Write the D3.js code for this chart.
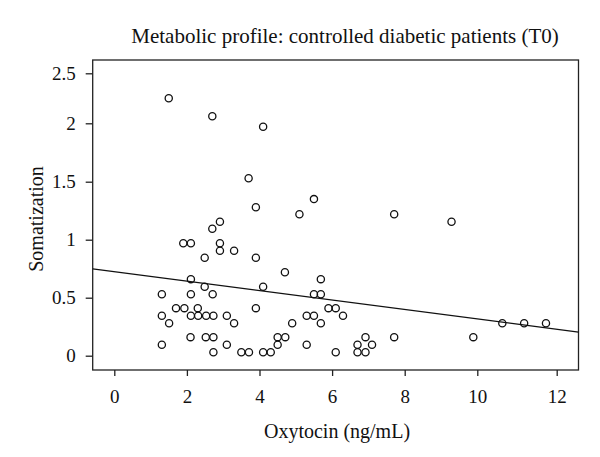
<!DOCTYPE html>
<html><head><meta charset="utf-8">
<script src="https://cdn.jsdelivr.net/npm/d3@7"></script>
<style>body{margin:0;background:#fff;} svg{display:block;}</style>
</head><body>
<script>
// ---- data ----
const title = "Metabolic profile: controlled diabetic patients (T0)";
const xLabel = "Oxytocin (ng/mL)";
const yLabel = "Somatization";
const xTicks = [0, 2, 4, 6, 8, 10, 12];
const yTicks = [0, 0.5, 1, 1.5, 2, 2.5];
const oxytocin = [
  1.50, 2.70, 4.10, 3.70, 3.90, 5.50, 5.10,
  2.91, 2.70, 1.90, 2.11, 2.91, 2.91, 3.30, 3.90, 2.49, 4.70, 2.11, 5.69, 2.49, 4.10,
  1.31, 2.11, 2.71, 5.50, 5.69,
  1.70, 1.93, 2.30, 3.90, 5.90, 6.10,
  1.31, 2.11, 2.31, 2.53, 2.73, 3.10, 5.30, 5.50,
  1.51, 3.30, 4.90, 5.69,
  2.10, 2.52, 2.73, 4.50, 4.71,
  1.31, 3.10, 4.50, 5.30,
  2.73, 3.50, 3.71, 4.10, 4.31, 6.10,
  7.71, 9.29, 6.30, 6.92, 6.70, 7.10, 6.70, 6.92, 7.71, 9.89, 10.63, 11.18, 11.73
];
const somatization = [
  2.25, 2.07, 1.97, 1.53, 1.28, 1.35, 1.22,
  1.155, 1.095, 0.97, 0.97, 0.97, 0.905, 0.905, 0.845, 0.845, 0.72, 0.66, 0.66, 0.595, 0.595,
  0.53, 0.53, 0.53, 0.53, 0.53,
  0.41, 0.41, 0.41, 0.41, 0.41, 0.41,
  0.345, 0.345, 0.345, 0.345, 0.345, 0.345, 0.345, 0.345,
  0.28, 0.28, 0.28, 0.28,
  0.16, 0.16, 0.16, 0.16, 0.16,
  0.095, 0.095, 0.095, 0.095,
  0.03, 0.03, 0.03, 0.03, 0.03, 0.03,
  1.22, 1.155, 0.345, 0.16, 0.095, 0.095, 0.03, 0.03, 0.16, 0.16, 0.28, 0.28, 0.28
];
const fit = { intercept: 0.723, slope: -0.0414 };
const xExtent = [-0.595, 12.55];

// ---- layout ----
const W = 600, H = 457;
const L = 92.7, R = 578.5, T = 60, B = 370;
const font = "'Liberation Serif', 'Times New Roman', serif";

const x = d3.scaleLinear()
  .domain([xExtent[0], 0, 10, xExtent[1]])
  .range([L, 114.3, 477.3, 477.3 + (xExtent[1] - 10) * 39.7]);
const y = d3.scaleLinear()
  .domain([-0.123, 0, 1.5, 2, 2.5, 2.63])
  .range([B, 355.7, 181.7, 123.3, 73.3, T]);

const svg = d3.select("body").append("svg").attr("width", W).attr("height", H)
  .style("font-family", font);

svg.append("rect").attr("x", L).attr("y", T).attr("width", R - L).attr("height", B - T)
  .attr("fill", "none").attr("stroke", "#222").attr("stroke-width", 1.3);

const xAxis = svg.append("g").attr("transform", `translate(0,${B})`)
  .call(d3.axisBottom(x).tickValues(xTicks).tickSize(6).tickPadding(14).tickFormat(d3.format("d")));
xAxis.select(".domain").remove();
xAxis.selectAll("line").attr("stroke", "#222").attr("stroke-width", 1.3);
xAxis.selectAll("text").attr("font-size", 19).attr("fill", "#111").style("font-family", font);

const yAxis = svg.append("g").attr("transform", `translate(${L},0)`)
  .call(d3.axisLeft(y).tickValues(yTicks).tickSize(7).tickPadding(10).tickFormat(d => d === 0 ? "0" : String(d)));
yAxis.select(".domain").remove();
yAxis.selectAll("line").attr("stroke", "#222").attr("stroke-width", 1.3);
yAxis.selectAll("text").attr("font-size", 19).attr("fill", "#111").style("font-family", font);

// regression line
svg.append("line")
  .attr("x1", x(xExtent[0])).attr("y1", y(fit.intercept + fit.slope * xExtent[0]))
  .attr("x2", x(xExtent[1])).attr("y2", y(fit.intercept + fit.slope * xExtent[1]))
  .attr("stroke", "#111").attr("stroke-width", 1.3);

// points
svg.append("g").selectAll("circle").data(oxytocin.map((v, i) => [v, somatization[i]]))
  .join("circle")
  .attr("cx", d => x(d[0])).attr("cy", d => y(d[1])).attr("r", 3.6)
  .attr("fill", "none").attr("stroke", "#111").attr("stroke-width", 1.3);

// texts
svg.append("text").attr("x", 345).attr("y", 43).attr("text-anchor", "middle")
  .attr("font-size", 21).attr("fill", "#111").text(title);
svg.append("text").attr("x", 337).attr("y", 438).attr("text-anchor", "middle")
  .attr("font-size", 20).attr("fill", "#111").text(xLabel);
svg.append("text").attr("transform", `translate(43,${(T + B) / 2 + 4}) rotate(-90)`)
  .attr("text-anchor", "middle").attr("font-size", 20).attr("fill", "#111").text(yLabel);
</script>
</body></html>
